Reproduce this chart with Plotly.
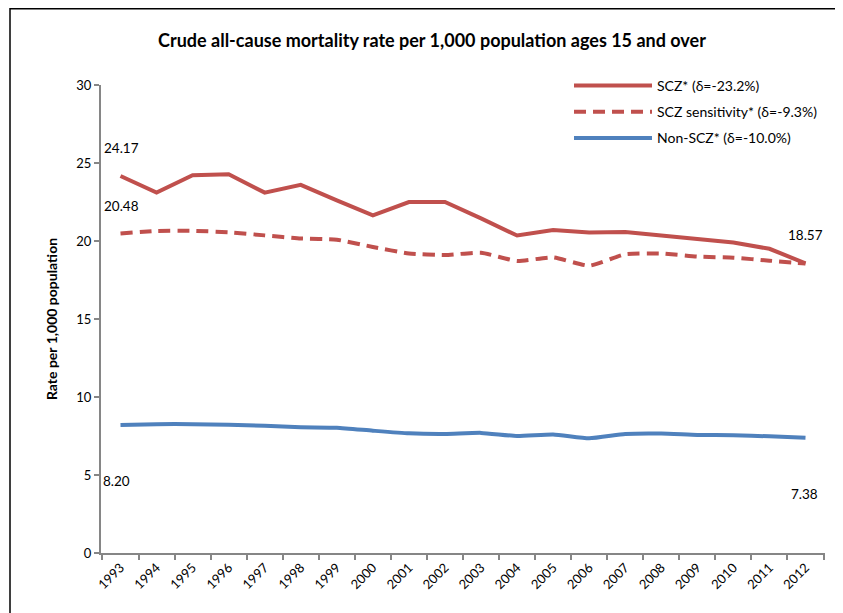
import plotly.graph_objects as go

years = [str(y) for y in range(1993, 2013)]
scz = [24.17, 23.10, 24.22, 24.28, 23.10, 23.60, 22.60, 21.65, 22.50, 22.50,
       21.45, 20.35, 20.70, 20.55, 20.57, 20.35, 20.10, 19.90, 19.50, 18.57]
scz_sens = [20.48, 20.64, 20.65, 20.56, 20.36, 20.16, 20.08, 19.62, 19.20, 19.10,
            19.25, 18.72, 18.95, 18.42, 19.15, 19.20, 19.00, 18.93, 18.74, 18.55]
non_scz = [8.20, 8.26, 8.26, 8.22, 8.15, 8.06, 8.03, 7.84, 7.67, 7.63,
           7.70, 7.50, 7.60, 7.35, 7.63, 7.66, 7.57, 7.55, 7.48, 7.38]

names = ["SCZ* (δ=-23.2%)", "SCZ sensitivity* (δ=-9.3%)", "Non-SCZ* (δ=-10.0%)"]
y_ticks = [0, 5, 10, 15, 20, 25, 30]

RED = "#C0504D"
BLUE = "#4F81BD"
AXIS = "#868686"
FONT = "Lato, Carlito, Calibri, sans-serif"

# the page body adds an 8px margin, so the figure is sized to fit inside
OFF = 8
W, H = 843 - OFF, 613 - OFF
ML, MT = 101 - OFF, 85 - OFF
MR = W - (825 - OFF)
MB = H - (553 - OFF)
PW, PH = W - ML - MR, H - MT - MB

fig = go.Figure()
fig.add_trace(go.Scatter(x=years, y=scz, name=names[0], mode="lines", legendgroup="a",
                         line=dict(color=RED, width=4)))
fig.add_trace(go.Scatter(x=years, y=scz_sens, name=names[1], mode="lines", legendgroup="b",
                         line=dict(color=RED, width=4, dash="12px,7px",
                                   shape="spline", smoothing=0.5)))
fig.add_trace(go.Scatter(x=years, y=non_scz, name=names[2], mode="lines", legendgroup="c",
                         line=dict(color=BLUE, width=4, shape="spline", smoothing=0.5)))

def label(i, series, yshift, xshift=0):
    # category axes take the category's serial number for annotations
    fig.add_annotation(x=i, y=series[i], text=f"{series[i]:.2f}", showarrow=False,
                       yshift=yshift, xshift=xshift,
                       font=dict(family=FONT, size=13.5, color="#000"))

last = len(years) - 1
label(0, scz, 28, 1)
label(0, scz_sens, 28, 1)
label(0, non_scz, -56, -4)
label(last, scz, 28, 0)
label(last, non_scz, -56, -1)

# outer chart frame
fig.add_shape(type="rect", xref="paper", yref="paper",
              x0=(10 - OFF - ML) / PW, x1=(W + 20 - ML) / PW,
              y0=-(H + 20 - MT - PH) / PH, y1=1 + (MT - 0.8) / PH,
              line=dict(color="#000", width=1.5), layer="below")

fig.update_layout(
    width=W, height=H,
    margin=dict(l=ML, r=MR, t=MT, b=MB, autoexpand=False),
    paper_bgcolor="white", plot_bgcolor="white",
    font=dict(family=FONT, size=13, color="#000"),
    title=dict(text="<b>Crude all-cause mortality rate per 1,000 population ages 15 and over</b>",
               x=(432 - OFF) / W, xanchor="center", xref="container",
               y=1 - (41 - OFF) / H, yanchor="middle", yref="container",
               font=dict(family=FONT, size=18, color="#000")),
    showlegend=True,
    legend=dict(x=(569 - OFF - ML) / PW, y=1 + (MT - (70 - OFF)) / PH,
                xanchor="left", yanchor="top", traceorder="grouped",
                bgcolor="rgba(0,0,0,0)", font=dict(family=FONT, size=14),
                itemwidth=78, tracegroupgap=5),
    xaxis=dict(type="category", showgrid=False, showline=True, linecolor=AXIS, linewidth=2,
               ticks="outside", tickson="boundaries", ticklen=5, tickcolor=AXIS, tickwidth=2,
               tickangle=-45, tickfont=dict(family=FONT, size=13), zeroline=False),
    yaxis=dict(range=[0, 30], tickvals=y_ticks, showgrid=False, showline=True,
               linecolor=AXIS, linewidth=2, ticks="outside", ticklen=5, tickcolor=AXIS,
               tickwidth=2, tickfont=dict(family=FONT, size=13), zeroline=False,
               title=dict(text="<b>Rate per 1,000 population</b>", standoff=15,
                          font=dict(family=FONT, size=14))),
)

fig.write_html("out.html")
